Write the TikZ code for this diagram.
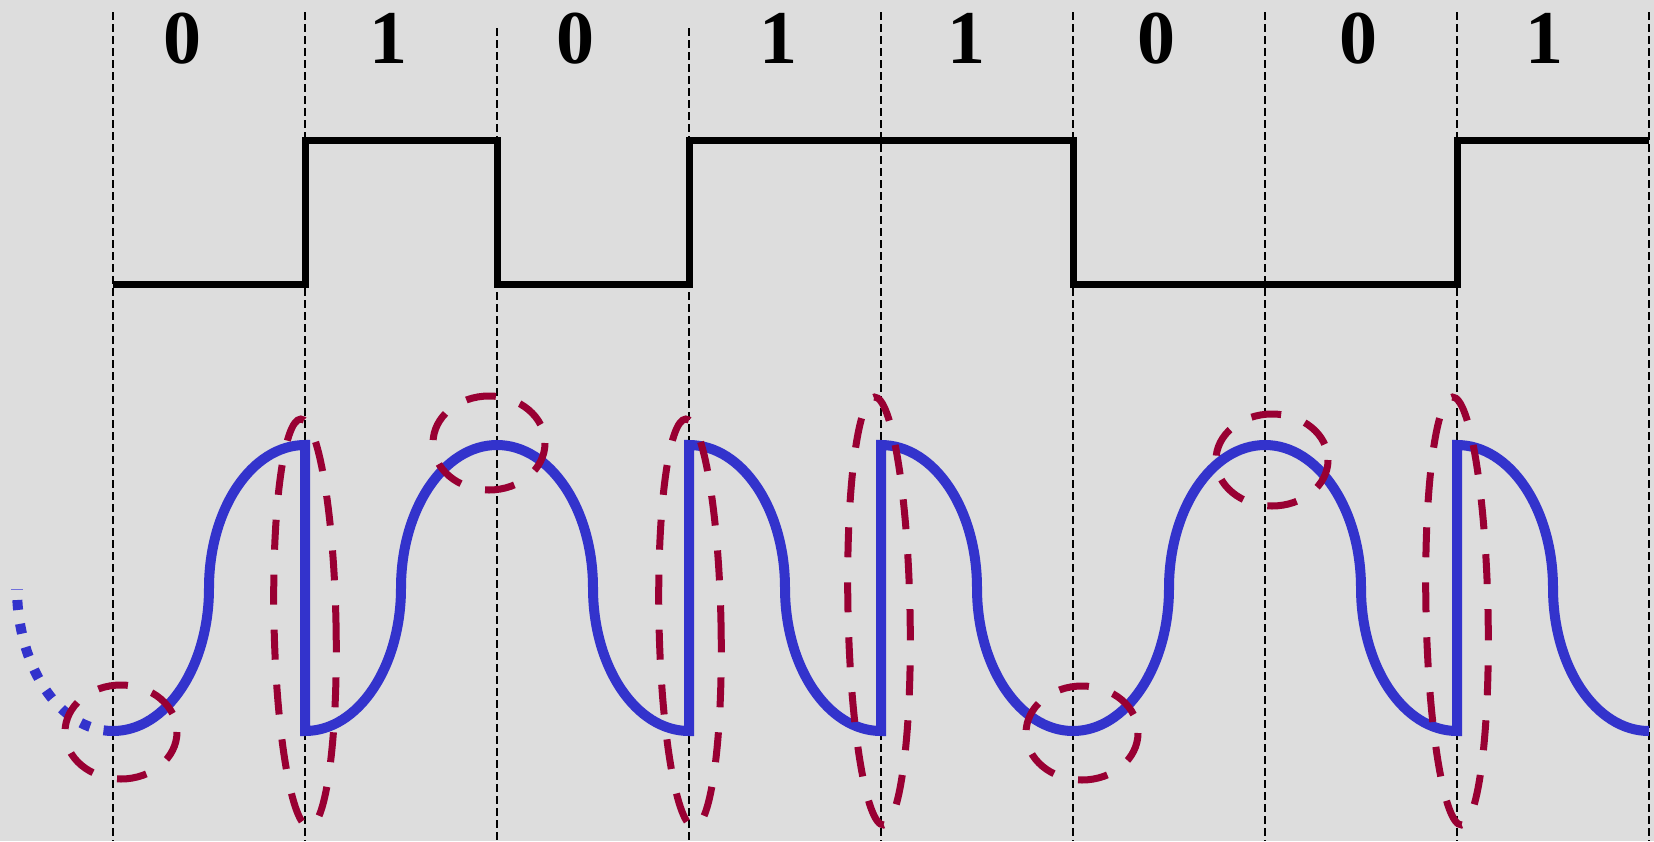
\documentclass[tikz,border=0pt]{standalone}
\usepackage{fontspec}
\setmainfont{Liberation Serif}
\definecolor{wavblue}{HTML}{3333CC}
\definecolor{ovalred}{HTML}{990033}
\definecolor{bggray}{HTML}{DDDDDD}

\begin{document}
\begin{tikzpicture}[x=1pt,y=-1pt,
  bitline/.style={line width=1.8pt,dash pattern=on 8pt off 4pt},
  level/.style={line width=7pt},
  wave/.style={wavblue,line width=10pt},
  oval/.style={ovalred,line width=7pt,dash pattern=on 30pt off 25pt},
  bit/.style={font=\fontsize{76}{80}\selectfont\bfseries,anchor=base,inner sep=0pt}]
  \fill[bggray] (0,0) rectangle (1654,841);
  \useasboundingbox (0,0) rectangle (1654,841);
  % bit cells
  \foreach \x/\top in {113/12,305/12,497/28,689/28,881/12,1073/12,1265/12,1457/12,1649/12}
    \draw[bitline] (\x,\top) -- (\x,841);
  \foreach \x/\b [count=\i from 0] in {182/0,388/1,575/0,778/1,966/1,1156/0,1358/0,1544/1}
    \node[bit] (b\i) at (\x,63) {\b};
  % data signal
  \draw[level] (113,284) -- (305,284) -- (305,140) -- (497,140) -- (497,284)
    -- (689,284) -- (689,140) -- (1073,140) -- (1073,284) -- (1457,284)
    -- (1457,140) -- (1649,140);
  % modulated signal
  \draw[wavblue!70,line width=1pt] (11,589) -- (23,589);
  \draw[wave,dash pattern=on 10pt off 14pt,dash phase=12pt]
    (17,588) .. controls +(0,79) and +(-53,0) .. (113,731);
  \draw[wave]
    (113,731) .. controls +(53,0) and +(0,79) .. (209,588) .. controls +(0,-79) and +(-53,0) .. (305,445)
    -- (305,731) .. controls +(53,0) and +(0,79) .. (401,588) .. controls +(0,-79) and +(-53,0) .. (497,445)
    .. controls +(53,0) and +(0,-79) .. (593,588) .. controls +(0,79) and +(-53,0) .. (689,731)
    -- (689,445) .. controls +(53,0) and +(0,-79) .. (785,588) .. controls +(0,79) and +(-53,0) .. (881,731)
    -- (881,445) .. controls +(53,0) and +(0,-79) .. (977,588) .. controls +(0,79) and +(-53,0) .. (1073,731)
    .. controls +(53,0) and +(0,79) .. (1169,588) .. controls +(0,-79) and +(-53,0) .. (1265,445)
    .. controls +(53,0) and +(0,-79) .. (1361,588) .. controls +(0,79) and +(-53,0) .. (1457,731)
    -- (1457,445) .. controls +(53,0) and +(0,-79) .. (1553,588) .. controls +(0,79) and +(-53,0) .. (1649,731);
  % marked spots
  \draw[oval] (121,732) ellipse [x radius=56,y radius=47];
  \draw[oval] (489,443) ellipse [x radius=56,y radius=47];
  \draw[oval] (1082,733) ellipse [x radius=56,y radius=47];
  \draw[oval] (1272,460) ellipse [x radius=56,y radius=46];
  \foreach \x/\y/\r in {305/623/204,690/623/204,879/611/214,1457/611/214}
    \draw[oval,rotate around={1.2:(\x,\y)}] (\x,\y) ellipse [x radius=31,y radius=\r];
\end{tikzpicture}
\end{document}
